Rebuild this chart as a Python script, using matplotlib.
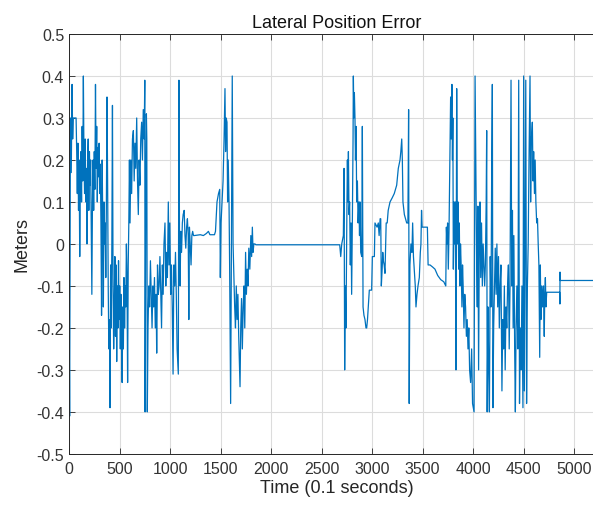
import matplotlib
matplotlib.use("Agg")
import matplotlib.pyplot as plt
import numpy as np

plt.rcParams["font.family"] = ["Liberation Sans", "DejaVu Sans"]
plt.rcParams["axes.unicode_minus"] = False

##################################
# Data (time in 0.1 s, error in m)
##################################
t_a = [0, 6, 14, 22, 30, 36, 42, 70, 76, 82, 88, 94, 100, 106, 112, 118, 124, 130, 136, 142,
       148, 154, 160, 166, 172, 178, 184, 190, 196, 202, 208, 214, 220, 226, 232, 238, 244, 250,
       256, 262, 268, 274, 280, 286, 292, 298, 304, 310, 316, 322, 328, 334, 340, 346, 352, 358,
       364, 370, 376, 382, 388, 394, 400, 406, 412, 418, 424, 430, 436, 442, 448, 454, 460, 466,
       472, 478, 484, 490, 496, 502, 508, 514, 520, 526, 532, 538, 544, 550, 556, 562, 568, 574,
       580, 586, 592, 598]
v_a = [-0.1, -0.41, 0.3, 0.17, 0.38, 0.25, 0.3, 0.3, 0.22, 0.12, 0.24, 0.08, 0.2, -0.03, 0.15,
       0.22, 0.1, 0.28, 0.15, 0.4, 0.2, 0.12, 0.25, 0.1, 0.18, 0.0, 0.2, 0.25, 0.08, 0.22, 0.14,
       0.2, 0.05, -0.12, 0.1, 0.2, 0.08, 0.22, 0.13, 0.38, 0.18, 0.28, 0.1, 0.23, 0.16, 0.24, 0.12,
       0.19, 0.05, -0.17, 0.2, 0.05, -0.15, 0.1, 0.0, 0.05, -0.08, 0.1, 0.35, 0.15, -0.1, -0.25,
       -0.18, -0.39, -0.05, -0.2, 0.0, 0.33, -0.1, -0.25, -0.15, -0.03, -0.22, -0.05, -0.28, -0.1,
       -0.2, -0.04, -0.18, -0.1, -0.25, -0.12, -0.2, -0.33, -0.15, -0.25, -0.08, -0.2, -0.1, -0.15,
       0.0, -0.08, -0.33, -0.05, 0.05, 0.2]

t_b = [604, 612, 620, 628, 637, 645, 653, 661, 670, 678, 686, 694, 702, 710, 719, 727, 735, 744,
       750, 753, 760, 766, 770, 775, 782, 790, 798, 806, 814, 822, 830, 838, 846, 854, 862, 868,
       876, 884, 892, 900, 908, 916, 924, 932, 940, 950, 958, 966, 974, 983, 990, 998, 1006, 1014,
       1022, 1030, 1038, 1046, 1054, 1062, 1070, 1082, 1088, 1094, 1100, 1106, 1114, 1122, 1130,
       1140, 1148, 1156, 1164, 1172, 1180, 1186, 1192, 1200, 1208, 1216, 1224, 1232]
v_b = [0.05, 0.2, 0.12, 0.25, 0.27, 0.15, 0.24, 0.18, 0.3, 0.15, 0.07, 0.2, 0.14, 0.25, 0.29,
       0.2, 0.32, 0.25, 0.39, -0.4, 0.1, 0.31, 0.25, -0.4, -0.2, -0.1, -0.15, -0.04, -0.12, -0.2,
       -0.1, -0.15, -0.08, -0.2, -0.12, -0.26, -0.05, -0.12, -0.1, -0.03, -0.12, -0.2, -0.05,
       -0.12, 0.0, 0.05, -0.1, -0.02, -0.08, 0.1, -0.05, 0.05, -0.12, -0.05, -0.15, -0.31, -0.05,
       -0.1, -0.02, -0.12, -0.25, -0.31, 0.39, 0.0, -0.1, 0.03, -0.02, 0.05, 0.07, 0.08, 0.02,
       -0.01, 0.04, 0.06, 0.02, -0.18, 0.04, 0.0, -0.05, 0.02, 0.03, 0.02]

t_c = [1240, 1300, 1330, 1360, 1380, 1395, 1440, 1450, 1465, 1480, 1492, 1498, 1505, 1515, 1525,
       1535, 1544, 1550, 1556, 1564, 1570, 1576, 1584, 1590, 1600, 1608, 1616, 1624, 1632, 1640,
       1648, 1656, 1664, 1672, 1680, 1693, 1700, 1708, 1716, 1724, 1732, 1740, 1748, 1756, 1764,
       1772, 1780, 1790, 1800, 1808, 1815, 1822, 1830, 1841, 1850, 2680]
v_c = [0.02, 0.022, 0.02, 0.025, 0.03, 0.022, 0.022, 0.03, 0.1, 0.12, 0.13, -0.08, 0.05, 0.1,
       0.15, 0.25, 0.37, 0.22, 0.3, 0.29, 0.1, 0.2, 0.1, -0.05, -0.38, 0.0, 0.4, 0.0, -0.08, -0.15,
       -0.2, -0.1, -0.18, -0.12, -0.22, -0.34, -0.2, -0.13, -0.25, -0.15, -0.1, -0.2, -0.02,
       -0.12, -0.06, -0.1, -0.01, -0.06, 0.02, -0.03, 0.04, -0.02, 0.0, 0.0, -0.002, -0.002]

t_d = [2690, 2700, 2716, 2723, 2729, 2735, 2742, 2750, 2756, 2762, 2766, 2772, 2778, 2785, 2792,
       2798, 2805, 2812, 2815, 2820, 2825, 2831, 2836, 2842, 2848, 2855, 2862, 2870, 2876, 2881,
       2888, 2898, 2904, 2911, 2920, 2930, 2940, 2947, 2955, 2963, 2973, 2996, 3003, 3023, 3029,
       3050, 3062, 3070, 3080, 3086, 3092, 3100, 3106, 3112, 3120, 3128, 3140, 3150, 3160, 3178,
       3200, 3220, 3244, 3260, 3277, 3285, 3294, 3300, 3306, 3320, 3343, 3355, 3362, 3368, 3375,
       3385, 3395, 3402, 3410, 3420, 3428, 3435, 3445, 3455, 3468, 3478, 3484, 3490, 3496, 3510,
       3541, 3548, 3555, 3574, 3600, 3623, 3650, 3680, 3710, 3730]
v_d = [-0.03, 0.0, 0.02, 0.18, -0.3, -0.1, -0.2, 0.05, 0.2, 0.1, 0.22, 0.07, 0.1, -0.05, 0.05,
       -0.12, 0.05, 0.25, 0.4, 0.3, 0.36, 0.3, 0.2, 0.28, 0.1, 0.15, 0.05, 0.1, 0.02, 0.1, -0.02,
       -0.03, 0.28, -0.15, -0.17, -0.18, -0.2, -0.2, -0.18, -0.15, -0.11, -0.11, -0.03, -0.03,
       0.05, 0.04, 0.05, 0.02, 0.06, 0.06, -0.1, -0.06, -0.02, -0.04, -0.05, -0.07, 0.05, 0.05,
       0.08, 0.1, 0.11, 0.12, 0.14, 0.18, 0.2, 0.22, 0.25, 0.2, 0.1, 0.07, 0.05, 0.05, 0.32, -0.38,
       -0.05, 0.0, -0.02, 0.05, -0.03, -0.07, -0.1, -0.15, -0.12, -0.1, -0.08, -0.02, 0.0, 0.08,
       0.04, 0.04, 0.04, 0.04, -0.05, -0.05, -0.055, -0.06, -0.075, -0.085, -0.09, -0.1]

t_e = [3736, 3742, 3748, 3755, 3762, 3770, 3778, 3784, 3791, 3796, 3800, 3805, 3812, 3818, 3824,
       3831, 3838, 3845, 3852, 3858, 3864, 3870, 3876, 3882, 3890, 3896, 3902, 3910, 3918, 3926,
       3934, 3942, 3950, 3958, 3966, 3976, 3986, 3995, 4010, 4020, 4030, 4036, 4042, 4048, 4055,
       4062, 4069, 4076, 4084, 4092, 4100, 4108, 4115, 4122, 4130, 4135, 4140, 4148, 4155, 4162,
       4170, 4178, 4185, 4191, 4197, 4204, 4212, 4220, 4228, 4236, 4244, 4252, 4260, 4268, 4276,
       4286, 4294, 4302, 4310, 4318, 4326, 4334, 4342, 4350, 4358, 4366, 4376, 4383, 4390, 4397,
       4404, 4412, 4419, 4426, 4434, 4444, 4452, 4460, 4468, 4476, 4484, 4494, 4501, 4508, 4516,
       4522, 4530, 4538, 4546, 4554, 4564, 4570, 4578, 4587, 4594, 4600, 4608, 4615, 4622, 4630,
       4638, 4645, 4652, 4660, 4666, 4672, 4680, 4688, 4697, 4705, 4710, 4716, 4722, 4729]
v_e = [0.04, 0.0, 0.05, -0.06, 0.03, 0.2, 0.35, 0.25, 0.38, 0.2, 0.3, -0.06, 0.1, 0.0, 0.1,
       -0.3, 0.37, 0.0, 0.1, -0.06, 0.05, -0.1, 0.0, -0.05, -0.15, -0.05, -0.1, -0.2, -0.12,
       -0.15, -0.22, -0.18, -0.25, -0.2, -0.3, -0.33, -0.25, -0.38, -0.4, 0.4, 0.1, -0.05, -0.15,
       0.09, -0.3, 0.0, 0.1, -0.08, 0.05, -0.1, 0.0, -0.05, -0.1, -0.05, 0.1, 0.27, -0.4, -0.15,
       -0.3, -0.4, -0.03, -0.15, 0.2, 0.38, -0.39, -0.2, -0.1, -0.01, -0.12, 0.0, -0.15, -0.03,
       -0.2, -0.1, -0.05, -0.35, -0.18, -0.25, -0.1, -0.3, -0.15, -0.2, -0.1, -0.05, -0.25, -0.1,
       0.39, -0.1, 0.08, -0.2, 0.02, -0.25, -0.4, -0.2, -0.1, -0.25, 0.39, -0.38, -0.2, -0.3,
       -0.1, -0.39, 0.4, -0.35, 0.1, 0.39, -0.38, -0.1, 0.0, 0.2, 0.4, 0.1, 0.25, 0.29, 0.15,
       0.22, 0.12, 0.2, 0.1, 0.05, 0.06, 0.0, -0.05, -0.27, -0.05, -0.18, -0.1, -0.15, -0.1,
       -0.22, -0.12, -0.08, -0.15, -0.115]

t_f = [4858, 4860, 4861, 4862, 5400]
v_f = [-0.115, -0.143, -0.067, -0.087, -0.087]

t = np.concatenate([t_a, t_b, t_c, t_d, t_e, t_f])
v = np.concatenate([v_a, v_b, v_c, v_d, v_e, v_f])

fig = plt.figure(figsize=(5.93, 5.06), dpi=100)
ax = fig.add_axes([0.1164, 0.101, 0.9036, 0.8298])

ax.plot(t, v, color="#0072BD", linewidth=0.9)

ax.set_xlim(0, 5305)
ax.set_ylim(-0.5, 0.5)
ax.set_xticks(np.arange(0, 5001, 500))
yt = np.round(np.arange(-0.5, 0.51, 0.1), 1)
ax.set_yticks(yt)
ax.set_yticklabels(["0" if abs(y) < 1e-9 else "%g" % y for y in yt])

ax.grid(True, color="#dcdcdc", linewidth=0.8)
ax.set_axisbelow(True)
for s in ax.spines.values():
    s.set_color("#262626")
    s.set_linewidth(0.7)
ax.tick_params(direction="in", length=4, width=0.6, colors="#262626", labelsize=11.5,
               top=True, right=False, labelcolor="#333333")
ax.tick_params(axis="x", pad=5)

ax.set_title("Lateral Position Error", fontsize=13, color="#111111", pad=5)
ax.set_xlabel("Time (0.1 seconds)", fontsize=13, color="#262626", labelpad=2)
ax.set_ylabel("Meters", fontsize=13, color="#262626", labelpad=4)

fig.savefig("out.png", dpi=100)
